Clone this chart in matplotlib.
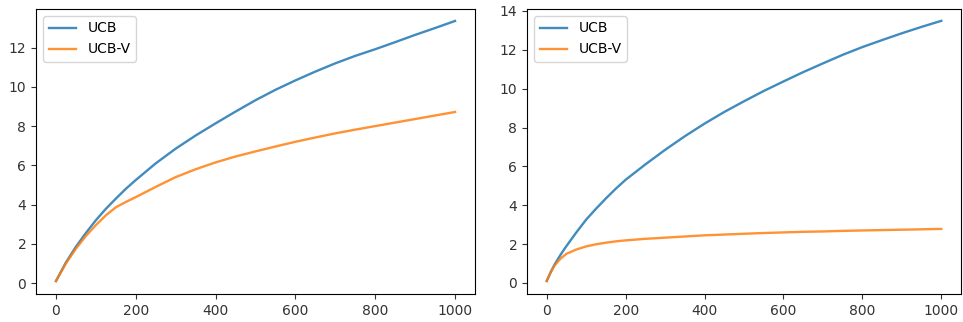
import matplotlib
matplotlib.use("Agg")
import matplotlib.pyplot as plt

# Left panel
x_left = [0, 25, 50, 75, 100, 125, 150, 175, 200, 250, 300, 350, 400, 450, 500, 550, 600, 650, 700, 750, 800, 850, 900, 950, 1000]
ucb_left = [0.1, 1.05, 1.85, 2.55, 3.2, 3.78, 4.3, 4.8, 5.25, 6.1, 6.85, 7.52, 8.14, 8.74, 9.32, 9.85, 10.33, 10.78, 11.2, 11.58, 11.92, 12.28, 12.65, 13.0, 13.36]
ucbv_left = [0.1, 1.0, 1.75, 2.4, 2.95, 3.45, 3.86, 4.13, 4.38, 4.9, 5.4, 5.8, 6.15, 6.45, 6.71, 6.96, 7.2, 7.42, 7.63, 7.82, 8.0, 8.18, 8.36, 8.54, 8.72]

# Right panel
x_right = [0, 10, 20, 35, 50, 75, 100, 125, 150, 175, 200, 250, 300, 350, 400, 450, 500, 550, 600, 650, 700, 750, 800, 850, 900, 950, 1000]
ucb_right = [0.1, 0.55, 0.95, 1.45, 1.9, 2.6, 3.26, 3.82, 4.35, 4.85, 5.31, 6.1, 6.85, 7.55, 8.2, 8.8, 9.35, 9.88, 10.37, 10.85, 11.3, 11.74, 12.14, 12.5, 12.85, 13.18, 13.49]
ucbv_right = [0.1, 0.55, 0.9, 1.25, 1.5, 1.72, 1.88, 1.99, 2.07, 2.14, 2.19, 2.27, 2.33, 2.39, 2.45, 2.49, 2.53, 2.57, 2.6, 2.63, 2.65, 2.68, 2.7, 2.72, 2.74, 2.76, 2.78]

labels = ["UCB", "UCB-V"]

fig = plt.figure(figsize=(9.63, 3.22), dpi=100)
ax1 = fig.add_axes([36/963, 28/322, 439/963, 285/322])
ax2 = fig.add_axes([527/963, 28/322, 434/963, 285/322])

ax1.plot(x_left, ucb_left, label=labels[0], alpha=0.85, lw=1.7)
ax1.plot(x_left, ucbv_left, label=labels[1], alpha=0.85, lw=1.7)
ax1.set_ylim(-0.56, 13.97)
ax1.set_xlim(-50, 1050)
ax1.legend(loc="upper left")

ax2.plot(x_right, ucb_right, label=labels[0], alpha=0.85, lw=1.7)
ax2.plot(x_right, ucbv_right, label=labels[1], alpha=0.85, lw=1.7)
ax2.set_ylim(-0.57, 14.1)
ax2.set_xlim(-50, 1050)
ax2.legend(loc="upper left")

for ax in (ax1, ax2):
    ax.tick_params(colors="#333333", labelcolor="#333333")

fig.savefig("out.png", dpi=100)
